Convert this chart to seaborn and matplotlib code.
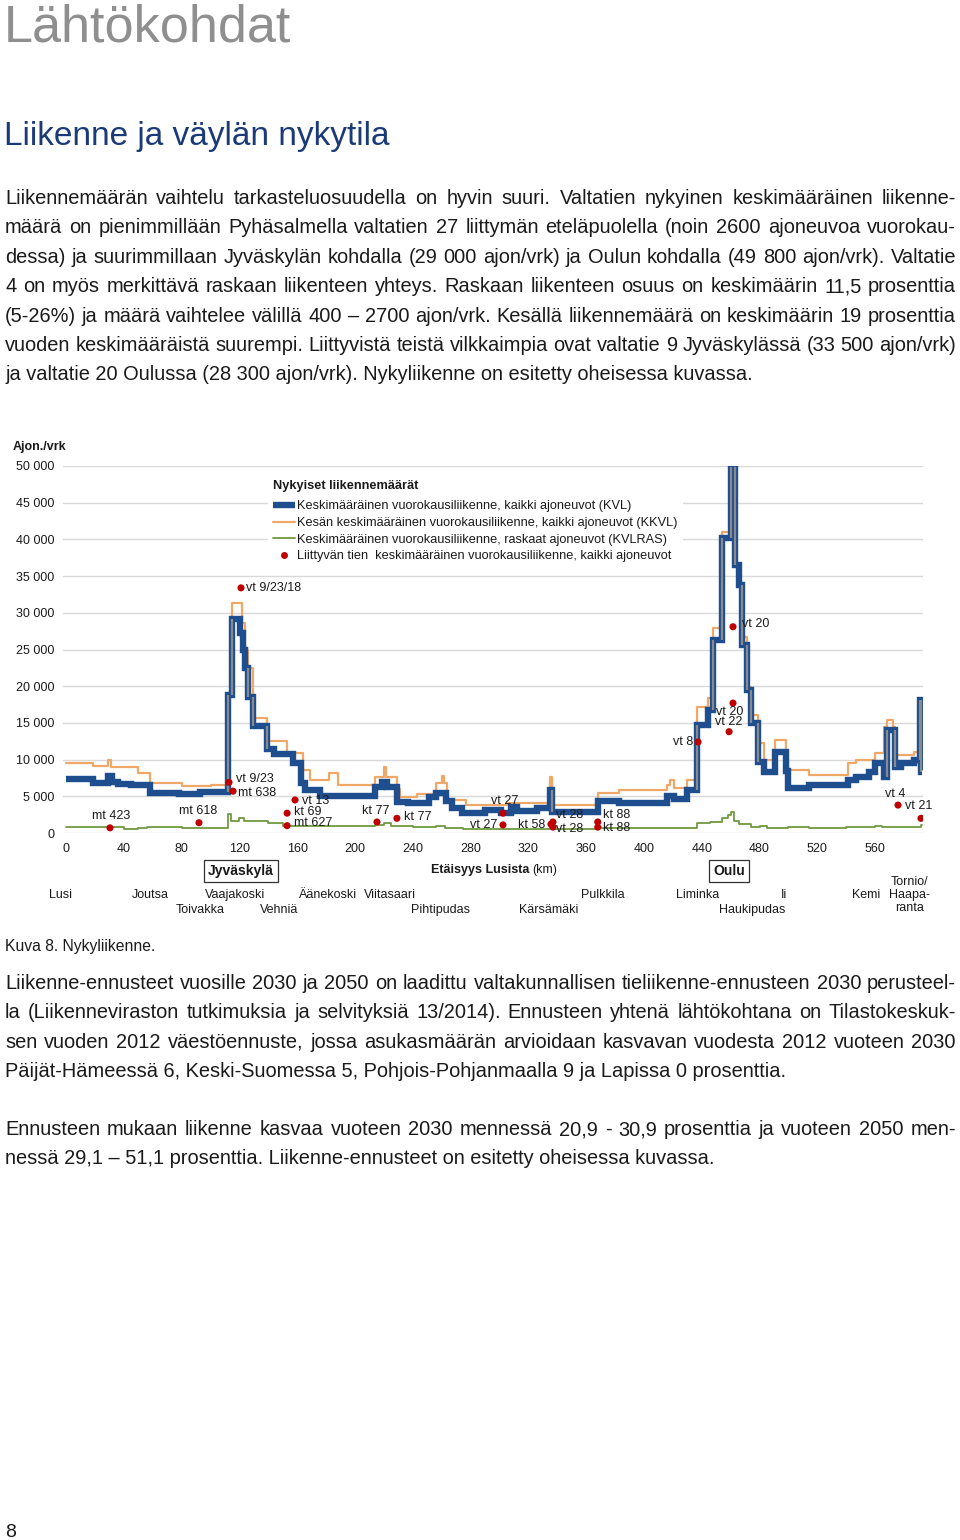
import matplotlib
matplotlib.use("Agg")
import matplotlib.pyplot as plt
import seaborn as sns
from matplotlib.lines import Line2D

# ---------------- data ----------------
kvl_km = [0, 19, 29, 32, 36, 45, 51, 58, 78, 93,
          111.9, 114.6, 120.4, 122.2, 123.9, 126.2, 129.2, 139, 144, 157,
          162.5, 165.5, 176, 214, 219, 222, 229, 237, 251, 256,
          263, 267, 274, 290, 301, 308, 312, 326, 335, 336.5,
          368, 383, 416, 421, 430, 437, 444, 448, 454, 460,
          463, 466, 468, 471, 474, 479, 483, 491, 498, 500,
          514, 541, 547, 556, 560, 566, 568, 574, 578, 587,
          591, 591.6, 592.3]
kvl_val = [7400, 6800, 7700, 7000, 6700, 6500, 6600, 5500, 5300, 5600,
           18800, 29100, 27200, 24900, 22500, 18500, 14600, 11500, 10700, 9600,
           6800, 5900, 5100, 6300, 7000, 6300, 4200, 4100, 4900, 5400,
           4300, 3400, 2700, 3100, 2700, 3500, 3000, 3400, 5900, 2900,
           4400, 4100, 5100, 4600, 5800, 14700, 16700, 26300, 40200, 49800,
           36500, 33800, 25600, 19500, 15000, 9700, 8300, 11000, 8500, 6100,
           6500, 7200, 7600, 8300, 9500, 7600, 14000, 9000, 9500, 9900,
           18100, 8300, 8300]

kkvl_km = [0, 19, 29, 31, 50, 58, 80, 100, 111.9, 114.6,
           121.5, 123.9, 126.2, 129.2, 139, 153, 164, 169, 182, 188,
           214, 220, 221.5, 229, 231, 243, 256, 260, 261.5, 263.5,
           277, 305, 335, 336.5, 368, 383, 416, 418, 421, 430,
           437, 444, 448, 454, 460, 463, 466, 468, 471, 474,
           479, 483, 491, 498, 500, 514, 541, 547, 560, 566,
           568, 572, 574, 587, 590, 592.3]
kkvl_val = [9500, 9100, 9900, 9000, 8200, 6800, 6400, 6600, 18800, 31300,
            28600, 25000, 22500, 15700, 12600, 10900, 8600, 7200, 8200, 6600,
            7600, 9000, 7600, 6000, 4900, 5300, 6800, 7800, 6800, 4500,
            3800, 4100, 7600, 3800, 5400, 5800, 6600, 7200, 6100, 7200,
            17200, 18400, 27900, 41000, 49800, 36800, 34000, 26700, 19900, 16100,
            12200, 9900, 12700, 9900, 8600, 7900, 9500, 9900, 10900, 14400,
            15400, 14400, 10600, 11000, 12000, 12000]

ras_km = [0, 40, 50, 56, 80, 112, 114, 120, 123, 140,
          150, 175, 214, 220, 225, 240, 256, 262, 275, 290,
          335, 337, 368, 437, 446, 454, 458, 460, 462, 466,
          474, 480, 485, 500, 514, 540, 560, 565, 591.5, 592.3]
ras_val = [800, 500, 700, 800, 700, 2600, 1700, 2100, 1600, 1300,
           1000, 900, 1100, 1400, 1000, 800, 1000, 700, 500, 600,
           900, 600, 700, 1300, 1500, 2000, 2400, 2800, 1700, 1200,
           800, 900, 700, 800, 700, 800, 900, 800, 1100, 1100]

dot_km = [121.1, 112.8, 115.6, 30.4, 92, 158.5, 153, 153, 215.2, 229,
          302.4, 302.4, 335.6, 337, 337, 368, 368, 437.4, 461.6, 461.6,
          458.9, 575.8, 591.7]
dot_val = [33400, 6900, 5700, 700, 1400, 4500, 2700, 1000, 1500, 2000,
           2700, 1100, 1200, 1500, 800, 1500, 800, 12400, 28100, 17700,
           13800, 3800, 2000]
dot_lab = ["vt 9/23/18", "vt 9/23", "mt 638", "mt 423", "mt 618", "vt 13", "kt 69",
           "mt 627", "kt 77", "kt 77", "vt 27", "vt 27", "kt 58", "vt 28", "vt 28",
           "kt 88", "kt 88", "vt 8", "vt 20", "vt 20", "vt 22", "vt 4", "vt 21"]

series_names = ["Keskimääräinen vuorokausiliikenne, kaikki ajoneuvot (KVL)",
                "Kesän keskimääräinen vuorokausiliikenne, kaikki ajoneuvot (KKVL)",
                "Keskimääräinen vuorokausiliikenne, raskaat ajoneuvot (KVLRAS)",
                "Liittyvän tien  keskimääräinen vuorokausiliikenne, kaikki ajoneuvot"]
legend_title = "Nykyiset liikennemäärät"

y_ticks = [0, 5000, 10000, 15000, 20000, 25000, 30000, 35000, 40000, 45000, 50000]
x_ticks = [0, 40, 80, 120, 160, 200, 240, 280, 320, 360, 400, 440, 480, 520, 560]

places_row1 = ["Lusi", "Joutsa", "Vaajakoski", "Äänekoski", "Viitasaari", "Pulkkila",
               "Liminka", "Ii", "Kemi"]
places_row2 = ["Toivakka", "Vehniä", "Pihtipudas", "Kärsämäki", "Haukipudas"]

title = "Lähtökohdat"
subtitle = "Liikenne ja väylän nykytila"
para1 = ["Liikennemäärän vaihtelu tarkasteluosuudella on hyvin suuri. Valtatien nykyinen keskimääräinen liikenne-",
         "määrä on pienimmillään Pyhäsalmella valtatien 27 liittymän eteläpuolella (noin 2600 ajoneuvoa vuorokau-",
         "dessa) ja suurimmillaan Jyväskylän kohdalla (29 000 ajon/vrk) ja Oulun kohdalla (49 800 ajon/vrk). Valtatie",
         "4 on myös merkittävä raskaan liikenteen yhteys. Raskaan liikenteen osuus on keskimäärin 11,5 prosenttia",
         "(5-26%) ja määrä vaihtelee välillä 400 – 2700 ajon/vrk. Kesällä liikennemäärä on keskimäärin 19 prosenttia",
         "vuoden keskimääräistä suurempi. Liittyvistä teistä vilkkaimpia ovat valtatie 9 Jyväskylässä (33 500 ajon/vrk)",
         "ja valtatie 20 Oulussa (28 300 ajon/vrk). Nykyliikenne on esitetty oheisessa kuvassa."]
caption = "Kuva 8. Nykyliikenne."
para2 = ["Liikenne-ennusteet vuosille 2030 ja 2050 on laadittu valtakunnallisen tieliikenne-ennusteen 2030 perusteel-",
         "la (Liikenneviraston tutkimuksia ja selvityksiä 13/2014). Ennusteen yhtenä lähtökohtana on Tilastokeskuk-",
         "sen vuoden 2012 väestöennuste, jossa asukasmäärän arvioidaan kasvavan vuodesta 2012 vuoteen 2030",
         "Päijät-Hämeessä 6, Keski-Suomessa 5, Pohjois-Pohjanmaalla 9 ja Lapissa 0 prosenttia."]
para3 = ["Ennusteen mukaan liikenne kasvaa vuoteen 2030 mennessä 20,9 - 30,9 prosenttia ja vuoteen 2050 men-",
         "nessä 29,1 – 51,1 prosenttia. Liikenne-ennusteet on esitetty oheisessa kuvassa."]
page_no = "8"

# ---------------- layout / style ----------------
W, H = 960, 1540
sns.set_theme(style="white")
plt.rcParams["font.family"] = ["Liberation Sans", "DejaVu Sans"]

fig = plt.figure(figsize=(W / 100, H / 100), dpi=100)
fig.patch.set_facecolor("white")


def fx(px):
    return px / W


def fy(py):
    return 1 - py / H


TXT = "#1a1a1a"

ax = fig.add_axes([fx(63), fy(833), 860 / W, 367 / H])
ax.set_facecolor("white")

c_blue = "#1f4e8f"
c_orange = "#f0a868"
c_green = "#6f9a40"
c_red = "#c00000"

sns.lineplot(x=kkvl_km, y=kkvl_val, ax=ax, drawstyle="steps-post", color=c_orange,
             lw=1.6, estimator=None, sort=False, zorder=3)
sns.lineplot(x=kvl_km, y=kvl_val, ax=ax, drawstyle="steps-post", color=c_blue,
             lw=4.6, estimator=None, sort=False, zorder=4,
             solid_joinstyle="miter", solid_capstyle="butt")
# grey core on the tall risers of the KVL steps
for i in range(1, len(kvl_km)):
    a, b = kvl_val[i - 1], kvl_val[i]
    if abs(b - a) >= 3000:
        ax.vlines(kvl_km[i], min(a, b), max(a, b), color="#8a8a8a", lw=1.6, zorder=5)
sns.lineplot(x=ras_km, y=ras_val, ax=ax, drawstyle="steps-post", color=c_green,
             lw=1.3, estimator=None, sort=False, zorder=4)
sns.scatterplot(x=dot_km, y=dot_val, ax=ax, color=c_red, s=26, edgecolor="none",
                zorder=6, legend=False)

lab_off = [(5, 0, "left"), (7, 3, "left"), (5, -2, "left"), (1, 12, "center"),
           (-1, 12, "center"), (7, -1, "left"), (7, 1, "left"), (7, 3, "left"),
           (-1, 11, "center"), (7, 1, "left"), (2, 12, "center"), (-6, 0, "right"),
           (-6, -1, "right"), (3, 7, "left"), (3, -2, "left"), (5, 7, "left"),
           (5, -1, "left"), (-5, 0, "right"), (9, 3, "left"), (-3, -9, "center"),
           (0, 10, "center"), (-3, 11, "center"), (-2, 12, "center")]
for xk, yv, t, (dx, dy, ha) in zip(dot_km, dot_val, dot_lab, lab_off):
    ax.annotate(t, (xk, yv), xytext=(dx, dy), textcoords="offset pixels",
                ha=ha, va="center", fontsize=9, color=TXT, zorder=7)

ax.set_xlim(-2.1, 593.1)
ax.set_ylim(0, 50000)
ax.set_yticks(y_ticks)
ax.set_yticklabels([f"{v:,}".replace(",", " ") for v in y_ticks])
ax.set_xticks(x_ticks)
ax.set_xticklabels([str(v) for v in x_ticks])
ax.tick_params(axis="both", length=0, labelsize=9, labelcolor=TXT)
ax.tick_params(axis="y", pad=6)
ax.tick_params(axis="x", pad=7)
ax.grid(axis="y", color="#d9d9d9", lw=1)
ax.grid(axis="x", visible=False)
for s in ax.spines.values():
    s.set_visible(False)
ax.set_xlabel("")
ax.set_ylabel("")

# legend
handles = [Line2D([], [], color=c_blue, lw=4.6, solid_capstyle="butt"),
           Line2D([], [], color=c_orange, lw=1.6),
           Line2D([], [], color=c_green, lw=1.3),
           Line2D([], [], color=c_red, marker="o", ls="none", markersize=5,
                  markeredgewidth=0)]
leg = ax.legend(handles, series_names, title=legend_title, loc="upper left",
                bbox_to_anchor=((268 - 63) / 860, (833 - 475) / 367),
                borderaxespad=0, frameon=True, facecolor="white", edgecolor="none",
                framealpha=1, fontsize=9.2, title_fontsize=9.2, handlelength=1.7,
                handletextpad=0.2, labelspacing=0.36, borderpad=0.4,
                alignment="left")
leg.get_title().set_fontweight("bold")
leg.get_title().set_color(TXT)
for t in leg.get_texts():
    t.set_color(TXT)
leg.set_zorder(10)
# a little extra room between the legend title and the entries
leg._legend_box.sep = 6

# axis annotations in figure space
fig.text(fx(13), fy(447), "Ajon./vrk", fontsize=9, fontweight="bold", color=TXT,
         ha="left", va="center")
box = dict(boxstyle="square,pad=0.32", fc="white", ec="#333333", lw=0.9)
fig.text(fx(241), fy(871), "Jyväskylä", fontsize=10, fontweight="bold", color=TXT,
         ha="center", va="center", bbox=box)
fig.text(fx(729), fy(871), "Oulu", fontsize=10, fontweight="bold", color=TXT,
         ha="center", va="center", bbox=box)
fig.text(fx(529), fy(870), "Etäisyys Lusista", fontsize=9, fontweight="bold",
         color=TXT, ha="right", va="center")
fig.text(fx(532), fy(870), "(km)", fontsize=9, color=TXT, ha="left", va="center")

row1_x = [60, 150, 235, 328, 390, 603, 698, 784, 866]
row2_x = [200, 279, 440, 549, 752]
for nm, x in zip(places_row1, row1_x):
    fig.text(fx(x), fy(895), nm, fontsize=9, color=TXT, ha="center", va="center")
for nm, x in zip(places_row2, row2_x):
    fig.text(fx(x), fy(910), nm, fontsize=9, color=TXT, ha="center", va="center")
fig.text(fx(910), fy(895), "Tornio/\nHaapa-\nranta", fontsize=9, color=TXT,
         ha="center", va="center", linespacing=1.15)

# ---------------- page text ----------------
fig.text(fx(4), fy(42), title, fontsize=37.5, color="#8f8f8f", ha="left", va="baseline")
fig.text(fx(4), fy(145), subtitle, fontsize=24, color="#1b3a78", ha="left", va="baseline")

renderer = fig.canvas.get_renderer()
BODY = 14.4
X0, X1 = 5, 956


def justified(lines, base0, step):
    for i, line in enumerate(lines):
        yb = fy(base0 + i * step)
        if i == len(lines) - 1:
            fig.text(fx(X0), yb, line, fontsize=BODY, color=TXT, ha="left", va="baseline")
            continue
        words = line.split(" ")
        ts = [fig.text(0, yb, w, fontsize=BODY, color=TXT, ha="left", va="baseline")
              for w in words]
        ws = [t.get_window_extent(renderer).width for t in ts]
        gap = (X1 - X0 - sum(ws)) / max(len(words) - 1, 1)
        x = X0
        for t, w in zip(ts, ws):
            t.set_x(fx(x))
            x += w + gap


justified(para1, 204, 29.4)
fig.text(fx(5), fy(951), caption, fontsize=11.3, color=TXT, ha="left", va="baseline")
justified(para2, 989, 29.3)
justified(para3, 1135, 29.3)
fig.text(fx(5), fy(1537), page_no, fontsize=14, color=TXT, ha="left", va="baseline")

fig.savefig("out.png", dpi=100, facecolor="white")
